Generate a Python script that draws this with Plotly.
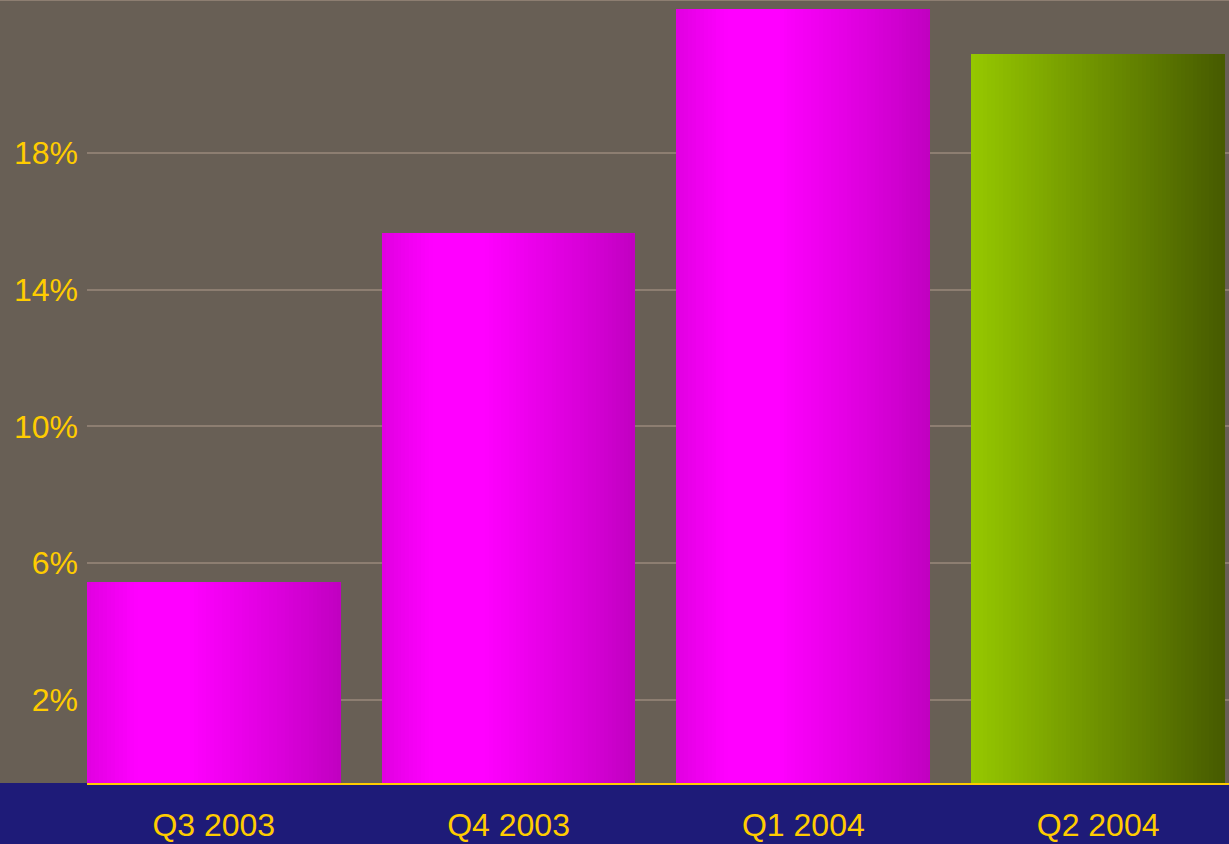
import plotly.graph_objects as go

# Quarterly growth (%)
quarters = ["Q3 2003", "Q4 2003", "Q1 2004", "Q2 2004"]
growth_pct = [5.45, 15.66, 22.2, 20.9]
tick_values = [2, 6, 10, 14, 18]
tick_labels = ["2%", "6%", "10%", "14%", "18%"]

# --- styling ---
BG = "#685f55"
NAVY = "#1e1b78"
GOLD = "#ffcc00"
GRID = "#8d7e71"
FONT = "Liberation Sans, Arial, sans-serif"

Y_MIN, Y_MAX = -0.43, 22.47
X_MIN, X_MAX = -0.430, 3.444
BAR_W = 0.861
N_STRIPS = 64

MAGENTA_STOPS = [(0.0, (0xe0, 0x00, 0xe0)), (0.1, (0xf0, 0x00, 0xf0)),
                 (0.2, (0xff, 0x00, 0xff)), (0.4, (0xff, 0x00, 0xff)),
                 (0.55, (0xf0, 0x00, 0xf0)), (0.75, (0xdc, 0x00, 0xdc)),
                 (0.9, (0xcc, 0x00, 0xcc)), (1.0, (0xc0, 0x00, 0xc0))]
GREEN_STOPS = [(0.0, (0x96, 0xc8, 0x00)), (1.0, (0x46, 0x5a, 0x00))]
bar_palettes = [MAGENTA_STOPS, MAGENTA_STOPS, MAGENTA_STOPS, GREEN_STOPS]


def shade(stops, t):
    for (t0, c0), (t1, c1) in zip(stops[:-1], stops[1:]):
        if t0 <= t <= t1:
            f = 0 if t1 == t0 else (t - t0) / (t1 - t0)
            r, g, b = (round(a + (bb - a) * f) for a, bb in zip(c0, c1))
            return f"rgb({r},{g},{b})"
    r, g, b = stops[-1][1]
    return f"rgb({r},{g},{b})"


fig = go.Figure()
xs = list(range(len(quarters)))
step = BAR_W / N_STRIPS
# each bar is drawn as a row of thin vertical strips to give it a horizontal shading
for j in range(N_STRIPS):
    t = (j + 0.5) / N_STRIPS
    w = step * (1.6 if j < N_STRIPS - 1 else 1.0)
    fig.add_trace(go.Bar(
        x=xs,
        y=[v - Y_MIN for v in growth_pct],
        base=Y_MIN,
        offset=-BAR_W / 2 + j * step,
        width=w,
        marker=dict(color=[shade(p, t) for p in bar_palettes], line=dict(width=0)),
        hoverinfo="skip",
        showlegend=False,
    ))

fig.update_layout(
    width=1229, height=844,
    margin=dict(l=87, r=0, t=0, b=61),
    paper_bgcolor=BG, plot_bgcolor=BG,
    barmode="overlay", bargap=0,
    font=dict(family=FONT, color=GOLD, size=32),
    showlegend=False,
    xaxis=dict(range=[X_MIN, X_MAX], tickvals=xs, ticktext=quarters,
               showgrid=False, zeroline=False, showline=True, linecolor=GOLD,
               linewidth=2, ticks="", ticklabelstandoff=13, automargin=False,
               tickfont=dict(size=32, color=GOLD, family=FONT)),
    yaxis=dict(range=[Y_MIN, Y_MAX], tickvals=tick_values, ticktext=tick_labels,
               showgrid=True, gridcolor=GRID, gridwidth=2, zeroline=False,
               showline=False, ticks="", ticklabelstandoff=8, automargin=False,
               tickfont=dict(size=32, color=GOLD, family=FONT)),
    shapes=[
        # navy band under the category axis
        dict(type="rect", xref="paper", yref="paper", x0=-0.2, x1=1.1, y0=-0.2, y1=0,
             fillcolor=NAVY, line=dict(width=0), layer="below"),
        # thin border along the top edge
        dict(type="line", xref="paper", yref="paper", x0=-0.2, x1=1.1, y0=1, y1=1,
             line=dict(color=GRID, width=2), layer="above"),
    ],
)

fig.write_html("out.html")
